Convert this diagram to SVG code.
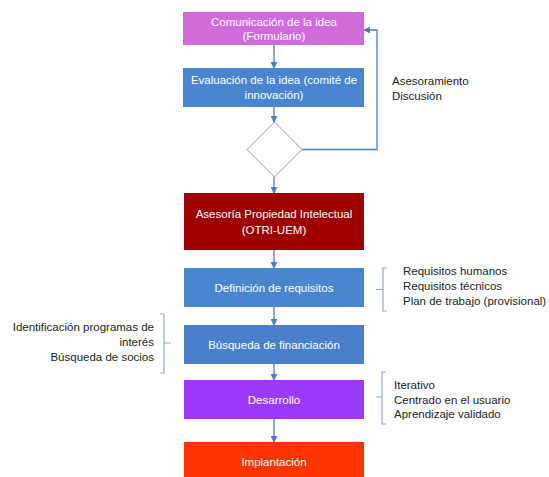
<svg xmlns="http://www.w3.org/2000/svg" width="549" height="477" viewBox="0 0 549 477">
<defs>
<marker id="ah" viewBox="0 0 8 8" refX="7" refY="4" markerWidth="7" markerHeight="7" markerUnits="userSpaceOnUse" orient="auto">
<path d="M0,0 L8,4 L0,8 z" fill="#4a7ec8"/>
</marker>
<style>
.box text{font-family:"Liberation Sans",Arial,sans-serif;font-size:11.5px;fill:#ffffff;text-anchor:middle}
.note{font-family:"Liberation Sans",Arial,sans-serif;font-size:11.5px;fill:#222222}
.con{fill:none;stroke:#4a7ec8;stroke-width:1.3}
.br{fill:none;stroke:#8fabd3;stroke-width:1.2}
</style>
</defs>
<rect width="549" height="477" fill="#ffffff"/>
<g id="connectors">
<line class="con" x1="274" y1="45" x2="274" y2="68" marker-end="url(#ah)"/>
<line class="con" x1="274" y1="107" x2="274" y2="122" marker-end="url(#ah)"/>
<line class="con" x1="274" y1="177" x2="274" y2="193" marker-end="url(#ah)"/>
<line class="con" x1="274" y1="250" x2="274" y2="268" marker-end="url(#ah)"/>
<line class="con" x1="274" y1="307" x2="274" y2="325" marker-end="url(#ah)"/>
<line class="con" x1="274" y1="364" x2="274" y2="380" marker-end="url(#ah)"/>
<line class="con" x1="274" y1="419" x2="274" y2="442" marker-end="url(#ah)"/>
<polyline class="con" points="302,149.5 377,149.5 377,30 364,30" marker-end="url(#ah)"/>
</g>
<g id="n1" class="box">
<rect x="183" y="12" width="181" height="33" fill="#cf6cdc"/>
<text x="274" y="25.5">Comunicación de la idea</text>
<text x="274" y="40">(Formulario)</text>
</g>
<g id="n2" class="box">
<rect x="183" y="68" width="181" height="39" fill="#4a85d0"/>
<text x="274" y="84">Evaluación de la idea (comité de</text>
<text x="274" y="99">innovación)</text>
</g>
<g id="n3">
<polygon points="274.5,122 302,149.5 274.5,177 247,149.5" fill="#ffffff" stroke="#9a9a9a" stroke-width="1"/>
</g>
<g id="n4" class="box">
<rect x="184" y="193" width="180" height="57" fill="#9e0000"/>
<text x="274" y="218">Asesoría Propiedad Intelectual</text>
<text x="274" y="234">(OTRI-UEM)</text>
</g>
<g id="n5" class="box">
<rect x="184" y="268" width="180" height="39" fill="#4a85d0"/>
<text x="274" y="291.5">Definición de requisitos</text>
</g>
<g id="n6" class="box">
<rect x="184" y="325" width="180" height="39" fill="#4a7fcb"/>
<text x="274" y="348.5">Búsqueda de financiación</text>
</g>
<g id="n7" class="box">
<rect x="184" y="380" width="180" height="39" fill="#9b3afc"/>
<text x="274" y="403.5">Desarrollo</text>
</g>
<g id="n8" class="box">
<rect x="184" y="442" width="180" height="35" fill="#ff3300"/>
<text x="274" y="466">Implantación</text>
</g>
<g id="notes">
<text class="note" x="392" y="85">Asesoramiento</text>
<text class="note" x="392" y="100">Discusión</text>
<path class="br" d="M387,268 L383,268 L383,311 L387,311 M383,289.5 L376,289.5"/>
<text class="note" x="403" y="275">Requisitos humanos</text>
<text class="note" x="403" y="290">Requisitos técnicos</text>
<text class="note" x="403" y="305">Plan de trabajo (provisional)</text>
<path class="br" d="M160,314 L164,314 L164,373 L160,373 M164,343 L171,343"/>
<text class="note" x="154" y="331" text-anchor="end">Identificación programas de</text>
<text class="note" x="154" y="346" text-anchor="end">interés</text>
<text class="note" x="154" y="361" text-anchor="end">Búsqueda de socios</text>
<path class="br" d="M386,372 L382,372 L382,424 L386,424 M382,397 L376,397"/>
<text class="note" x="394" y="389">Iterativo</text>
<text class="note" x="394" y="403.5">Centrado en el usuario</text>
<text class="note" x="394" y="418">Aprendizaje validado</text>
</g>
</svg>
